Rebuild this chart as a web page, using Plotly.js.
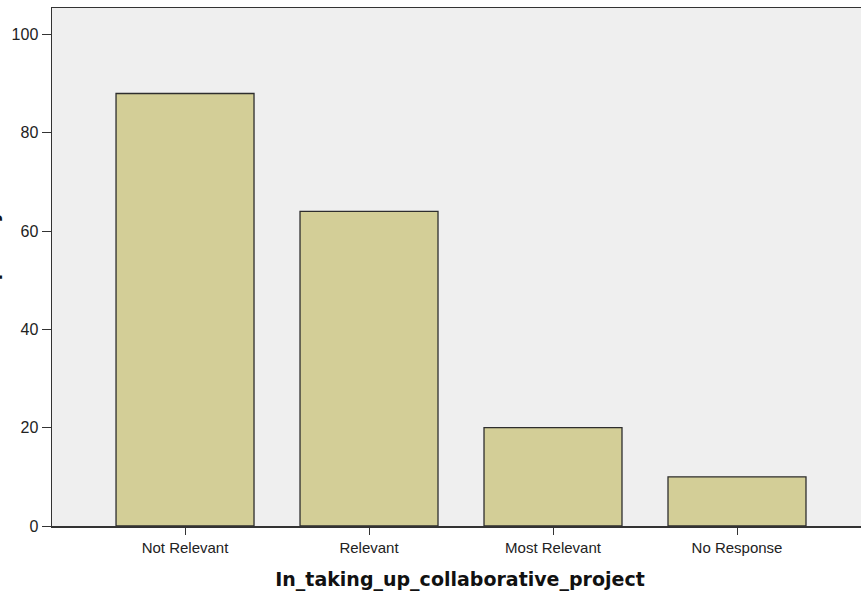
<!DOCTYPE html>
<html>
<head>
<meta charset="utf-8">
<script src="https://cdn.plot.ly/plotly-3.0.1.min.js"></script>
<style>
html,body{margin:0;padding:0;overflow:hidden;background:#fff;}
#chart{width:868px;height:599px;}
</style>
</head>
<body>
<div id="chart"></div>
<script>
const categories = ["Not Relevant", "Relevant", "Most Relevant", "No Response"];
const frequencies = [88, 64, 20, 10];
const yTickValues = [0, 20, 40, 60, 80, 100];
const xTitle = "In_taking_up_collaborative_project";
const yTitle = "Frequency";

const trace = {
  type: "bar",
  x: categories,
  y: frequencies,
  width: 0.75,
  marker: {color: "#d3ce97", line: {color: "#2e2e2e", width: 1.3}},
  hoverinfo: "x+y"
};

const layout = {
  width: 868,
  height: 599,
  margin: {l: 52, r: 0, t: 8, b: 73},
  paper_bgcolor: "#ffffff",
  plot_bgcolor: "#efefef",
  showlegend: false,
  font: {family: "Liberation Sans, Arial, sans-serif", color: "#222"},
  xaxis: {
    type: "category",
    range: [-0.723, 3.712],
    showgrid: false,
    zeroline: false,
    showline: true,
    mirror: true,
    linecolor: "#333",
    linewidth: 1.5,
    ticks: "outside",
    ticklen: 7,
    tickcolor: "#333",
    tickfont: {size: 15, color: "#222"},
    title: {text: xTitle, font: {family: "DejaVu Sans, sans-serif", size: 19, color: "#111", weight: "bold"}, standoff: 18}
  },
  yaxis: {
    range: [0, 105.4],
    tickvals: yTickValues,
    showgrid: false,
    zeroline: false,
    showline: true,
    mirror: true,
    linecolor: "#333",
    linewidth: 1.5,
    ticks: "outside",
    ticklen: 9,
    tickcolor: "#333",
    tickfont: {size: 16, color: "#222"}
  },
  annotations: [{
    text: yTitle,
    textangle: -90,
    xref: "paper", yref: "paper",
    x: -0.0742, y: 0.5,
    xanchor: "center", yanchor: "middle",
    yshift: 2,
    showarrow: false,
    font: {family: "DejaVu Sans, sans-serif", size: 19, color: "#111", weight: "bold"}
  }]
};

Plotly.newPlot("chart", [trace], layout, {displayModeBar: false, staticPlot: true});
</script>
</body>
</html>
